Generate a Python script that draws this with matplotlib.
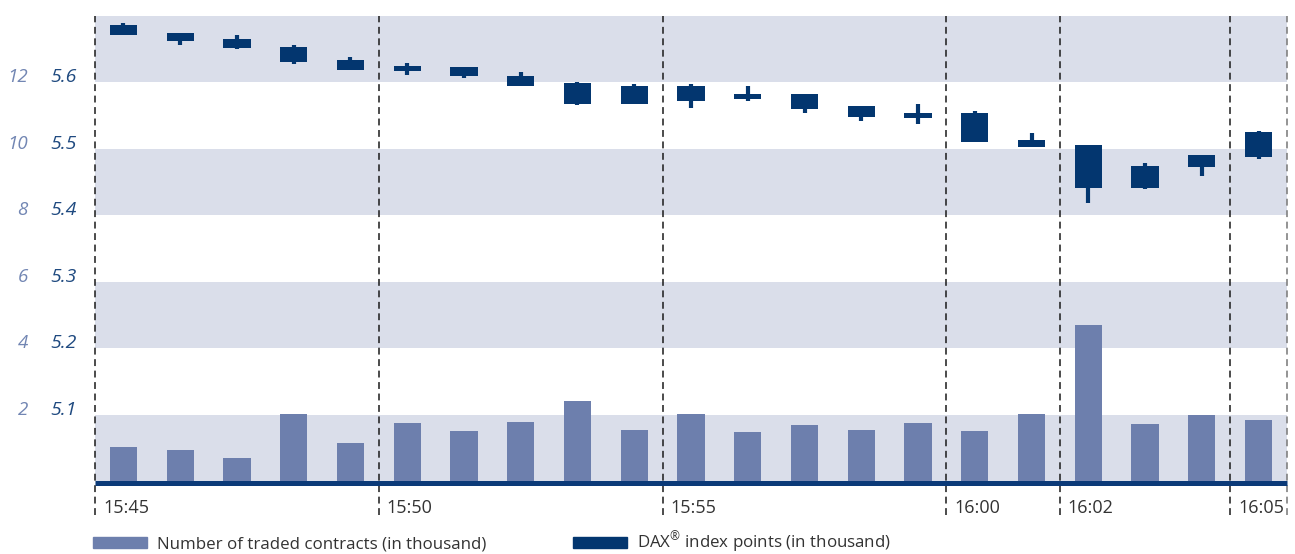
import numpy as np
import matplotlib
matplotlib.use("Agg")
import matplotlib.pyplot as plt
import matplotlib.transforms as mtransforms
from matplotlib.patches import Patch

plt.rcParams['font.family'] = ['Open Sans', 'DejaVu Sans']
plt.rcParams['mathtext.fontset'] = 'custom'
plt.rcParams['mathtext.rm'] = 'Open Sans'

# one slot per minute, 15:45 .. 16:05
minutes = np.arange(21)
contracts = [1.02, 0.93, 0.69, 2.02, 1.14, 1.75, 1.51, 1.78, 2.41, 1.54, 2.02,
             1.48, 1.69, 1.54, 1.75, 1.51, 2.02, 4.70, 1.72, 1.99, 1.84]

# DAX candles (in thousand points): box top/bottom and wick high/low
box_top = [5.686, 5.674, 5.665, 5.653, 5.634, 5.625, 5.623, 5.610, 5.599, 5.595, 5.595,
           5.583, 5.583, 5.565, 5.554, 5.554, 5.513, 5.506, 5.474, 5.491, 5.525]
box_bot = [5.672, 5.663, 5.652, 5.631, 5.619, 5.617, 5.609, 5.595, 5.568, 5.568, 5.572,
           5.575, 5.560, 5.548, 5.547, 5.511, 5.503, 5.441, 5.441, 5.472, 5.487]
wick_hi = [5.689, 5.674, 5.672, 5.656, 5.638, 5.629, 5.623, 5.616, 5.601, 5.597, 5.597,
           5.594, 5.583, 5.565, 5.567, 5.557, 5.524, 5.506, 5.478, 5.491, 5.527]
wick_lo = [5.672, 5.657, 5.651, 5.628, 5.619, 5.611, 5.607, 5.594, 5.566, 5.568, 5.562,
           5.572, 5.554, 5.542, 5.538, 5.511, 5.503, 5.419, 5.440, 5.459, 5.484]

time_pos = [0, 5, 10, 15, 17, 20]
time_labels = ['15:45', '15:50', '15:55', '16:00', '16:02', '16:05']
dax_ticks = [5.1, 5.2, 5.3, 5.4, 5.5, 5.6]
contract_ticks = [2, 4, 6, 8, 10, 12]

navy = '#03366f'
barblue = '#6d7fad'
band = '#dadeea'

fig = plt.figure(figsize=(12.95, 5.54), dpi=100)
ax = fig.add_axes([95/1295, (554-481)/554, 1192/1295, 465/554])
ax2 = ax.twinx()
ax.set_xlim(0, 21)
ax.set_ylim(5.0, 5.7)
ax2.set_ylim(0, 14)
ax.set_zorder(1)
ax2.set_zorder(2)
ax.patch.set_visible(False)
ax2.patch.set_visible(False)

# background bands
bg = fig.add_axes(ax.get_position(), zorder=0)
bg.set_xlim(0, 21)
bg.set_ylim(5.0, 5.7)
for lo in [5.0, 5.2, 5.4, 5.6]:
    bg.axhspan(lo, lo + 0.1, color=band, lw=0)
bg.axis('off')

x = minutes + 0.5
ax2.bar(x, contracts, width=0.48, color=barblue, zorder=2)

ax.vlines(x, wick_lo, wick_hi, color=navy, lw=3.0, zorder=3)
ax.bar(x, np.array(box_top) - np.array(box_bot), bottom=box_bot, width=0.48,
       color=navy, zorder=3)

for a in (ax, ax2):
    for s in a.spines.values():
        s.set_visible(False)
    a.set_xticks([])
    a.set_yticks([])

# dashed minute separators
for p in time_pos + [21]:
    c = '#777777' if p == 21 else '#1a1a1a'
    ax.axvline(p, ymin=-0.073, ymax=1, color=c, lw=1.1, ls=(0, (4.5, 3)),
               clip_on=False, zorder=4)

# thick baseline
base_tr = mtransforms.offset_copy(ax.get_yaxis_transform(), fig=fig, y=-2, units='dots')
ax.plot([0, 1], [5.0, 5.0], color='#0b3a78', lw=3.6, transform=base_tr,
        clip_on=False, zorder=5, solid_capstyle='butt')

# time labels
tlab = ax.get_xaxis_transform()
for p, lab in zip(time_pos, time_labels):
    ax.text(p + 0.14, -0.058, lab, transform=tlab, ha='left', va='center',
            fontsize=13, color='#333333')

# y labels
ytr = ax.get_yaxis_transform()
for d, c in zip(dax_ticks, contract_ticks):
    ax.text(-0.0151, d, f'{d:.1f}', transform=ytr, ha='right', va='baseline',
            fontsize=14, style='italic', color='#1f4a80')
    ax.text(-0.0562, d, str(c), transform=ytr, ha='right', va='baseline',
            fontsize=13.5, style='italic', color='#7286b3')

handles = [Patch(color=barblue, label='Number of traded contracts (in thousand)'),
           Patch(color=navy, label='DAX$^{\u00ae}$ index points (in thousand)')]
fig.legend(handles=handles, loc='center left', bbox_to_anchor=(93/1295, 1 - 543/554),
           ncol=2, frameon=False, fontsize=12.2, handlelength=3.2, handleheight=0.6,
           handletextpad=0.59, columnspacing=5.1, labelcolor='#333333',
           borderpad=0, borderaxespad=0)

fig.savefig('out.png', dpi=100)
